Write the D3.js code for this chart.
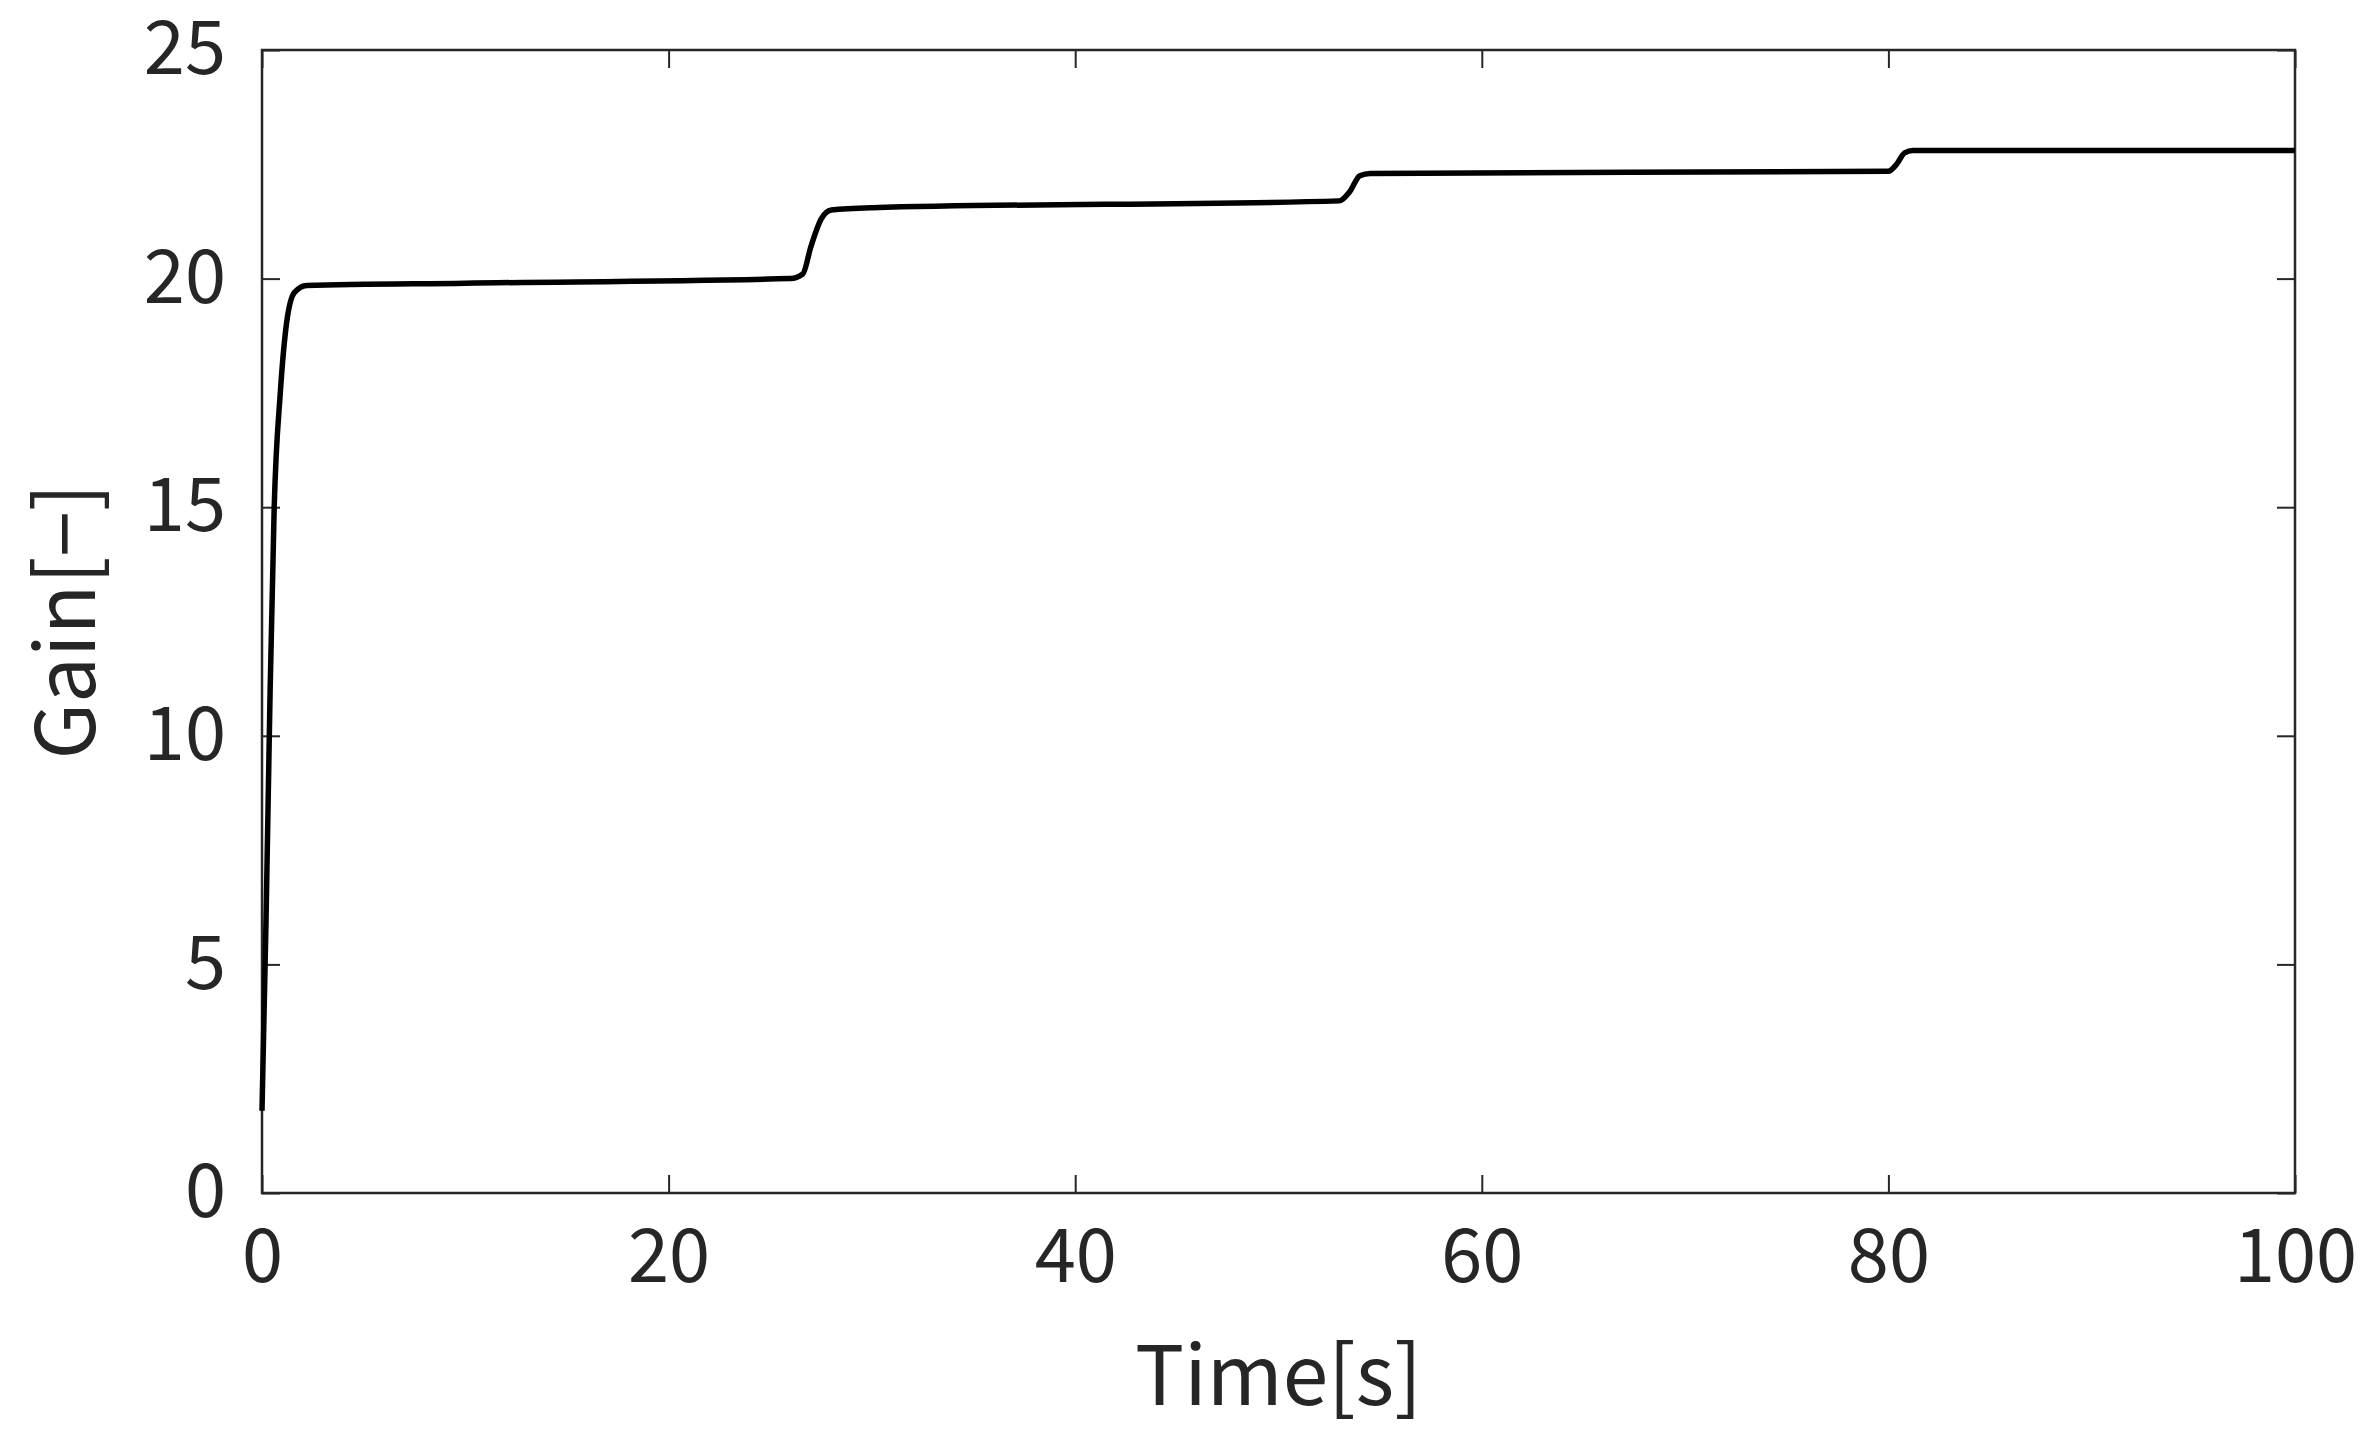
<!DOCTYPE html>
<html><head><meta charset="utf-8">
<script src="https://cdn.jsdelivr.net/npm/d3@7"></script>
<style>body{margin:0;background:#fff}</style></head>
<body><svg id="c" width="2377" height="1446"></svg>
<script>
const timeS = [0,0.2,0.4,0.6,0.9,1.2,1.6,2.2,10,26,26.6,27,27.5,28,30,53,53.5,54,54.5,80,80.4,80.8,81.2,100];
const gain  = [1.8,6,11,15,17.5,19,19.7,19.85,19.9,20.0,20.1,20.7,21.3,21.5,21.55,21.7,21.9,22.25,22.3,22.35,22.5,22.75,22.8,22.8];
const xTicks = [0,20,40,60,80,100];
const yTicks = [0,5,10,15,20,25];
const L=262,R=2295,T=50,B=1193;
const svg=d3.select("#c");
const x=d3.scaleLinear().domain([0,100]).range([L,R]);
const y=d3.scaleLinear().domain([0,25]).range([B,T]);
const font='"Noto Sans CJK JP", "Noto Sans", sans-serif';
const col="#262626";
function ax(g){g.selectAll(".domain").remove();g.selectAll("line").attr("stroke",col).attr("stroke-width",2);
 g.selectAll("text").attr("font-family",font).attr("font-size",74).attr("fill",col);}
svg.append("g").attr("transform",`translate(0,${B})`).call(d3.axisBottom(x).tickValues(xTicks).tickSizeInner(-18).tickSizeOuter(0).tickPadding(36)).call(ax);
svg.append("g").attr("transform",`translate(0,${T})`).call(d3.axisTop(x).tickValues(xTicks).tickSizeInner(-18).tickSizeOuter(0).tickFormat("")).call(ax);
svg.append("g").attr("transform",`translate(${L},0)`).call(d3.axisLeft(y).tickValues(yTicks).tickSizeInner(-18).tickSizeOuter(0).tickPadding(36)).call(ax);
svg.append("g").attr("transform",`translate(${R},0)`).call(d3.axisRight(y).tickValues(yTicks).tickSizeInner(-18).tickSizeOuter(0).tickFormat("")).call(ax);
svg.append("rect").attr("x",L).attr("y",T).attr("width",R-L).attr("height",B-T).attr("fill","none").attr("stroke",col).attr("stroke-width",2.5);
const line=d3.line().x((d,i)=>x(timeS[i])).y(d=>y(d)).curve(d3.curveMonotoneX);
svg.append("path").datum(gain).attr("d",line).attr("fill","none").attr("stroke","#000").attr("stroke-width",5.5);
svg.append("text").attr("x",(L+R)/2).attr("y",1405).attr("text-anchor","middle").attr("font-family",font).attr("font-size",82).attr("fill",col).text("Time[s]");
svg.append("text").attr("transform",`translate(95,${(T+B)/2}) rotate(-90)`).attr("text-anchor","middle").attr("font-family",font).attr("font-size",82).attr("fill",col).text("Gain[−]");
</script></body></html>
